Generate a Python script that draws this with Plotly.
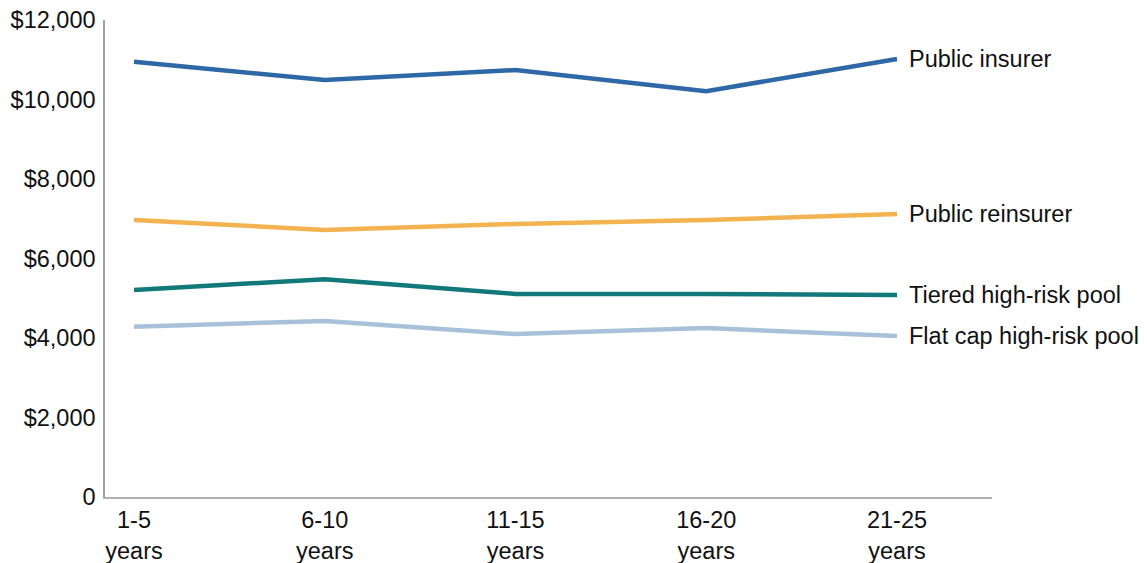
import plotly.graph_objects as go

# Cost per household by time horizon, for each program design
periods = ["1-5<br>years", "6-10<br>years", "11-15<br>years", "16-20<br>years", "21-25<br>years"]

public_insurer = [10950, 10490, 10740, 10210, 11020]
public_reinsurer = [6970, 6720, 6870, 6970, 7120]
tiered_pool = [5210, 5480, 5110, 5110, 5080]
flat_cap_pool = [4280, 4430, 4100, 4250, 4050]

series_names = ["Public insurer", "Public reinsurer", "Tiered high-risk pool", "Flat cap high-risk pool"]
series_values = [public_insurer, public_reinsurer, tiered_pool, flat_cap_pool]
series_colors = ["#2f68a6", "#f2b350", "#11787b", "#a8c0da"]

y_tick_vals = [0, 2000, 4000, 6000, 8000, 10000, 12000]
y_tick_text = ["0", "$2,000", "$4,000", "$6,000", "$8,000", "$10,000", "$12,000"]

FONT = "Liberation Sans, Arial, sans-serif"
FS = 23.5

fig = go.Figure()
x_idx = list(range(len(periods)))

for name, vals, color in zip(series_names, series_values, series_colors):
    fig.add_trace(go.Scatter(
        x=x_idx, y=vals, mode="lines", name=name,
        line=dict(color=color, width=4.5),
        hoverinfo="skip",
    ))
    # End-of-line label
    fig.add_annotation(
        x=x_idx[-1], y=vals[-1], xref="x", yref="y",
        text=name, showarrow=False,
        xanchor="left", yanchor="middle", xshift=10,
        font=dict(family=FONT, size=FS, color="#111111"),
    )

fig.update_layout(
    width=1147, height=563,
    margin=dict(l=105, r=155, t=20, b=66),
    paper_bgcolor="white", plot_bgcolor="white",
    showlegend=False,
    font=dict(family=FONT, size=FS, color="#111111"),
    xaxis=dict(
        range=[-0.152, 4.498],
        tickvals=x_idx, ticktext=periods,
        showgrid=False, zeroline=False,
        showline=True, linecolor="#b0b0b0", linewidth=1.5,
        ticks="", ticklabelstandoff=1, automargin=False,
        tickfont=dict(family=FONT, size=FS, color="#111111"),
        fixedrange=True,
    ),
    yaxis=dict(
        range=[0, 12000],
        tickvals=y_tick_vals, ticktext=y_tick_text,
        showgrid=False, zeroline=False,
        showline=True, linecolor="#a0a0a0", linewidth=1.5,
        ticks="", ticklabelstandoff=3, automargin=False,
        tickfont=dict(family=FONT, size=FS, color="#111111"),
        fixedrange=True,
    ),
)

fig.write_html("out.html")
